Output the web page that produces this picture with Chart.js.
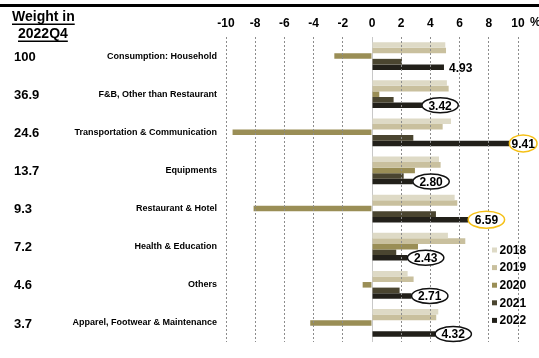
<!DOCTYPE html>
<html><head><meta charset="utf-8">
<script src="https://cdn.jsdelivr.net/npm/chart.js@4"></script>
<style>html,body{margin:0;padding:0;background:#fff}#wrap{width:539px;height:358px}</style>
</head><body><div id="wrap"><canvas id="c" width="539" height="358"></canvas></div>
<script>
// Household consumption growth by component, % y/y
const categories = ['Consumption: Household', 'F&B, Other than Restaurant', 'Transportation & Communication', 'Equipments', 'Restaurant & Hotel', 'Health & Education', 'Others', 'Apparel, Footwear & Maintenance'];
const weights = ['100', '36.9', '24.6', '13.7', '9.3', '7.2', '4.6', '3.7'];
const years = ['2018', '2019', '2020', '2021', '2022'];
const v2018 = [5.02, 5.13, 5.41, 4.59, 5.66, 5.20, 2.44, 4.54];
const v2019 = [5.07, 5.25, 4.84, 4.70, 5.84, 6.39, 2.85, 4.40];
const v2020 = [-2.58, 0.50, -9.55, 2.94, -8.11, 3.15, -0.64, -4.23];
const v2021 = [2.05, 1.48, 2.83, 2.17, 4.38, 1.66, 1.89, null];
const v2022 = [4.93, 3.42, 9.41, 2.80, 6.59, 2.43, 2.71, 4.32];
const xTicks = [-10, -8, -6, -4, -2, 0, 2, 4, 6, 8, 10];
// ring style around each 2022 value label
const ringStyle = ['none', 'black', 'yellow', 'black', 'yellow', 'black', 'black', 'black'];

const colors = ['#dedac6', '#c9c09e', '#9a8e56', '#4a4530', '#22201a'];
const series = [v2018, v2019, v2020, v2021, v2022];
const FONT = '"Liberation Sans", Arial, sans-serif';

const overlay = {
  id: 'overlay',
  beforeDraw(chart) {
    const ctx = chart.ctx;
    ctx.save();
    ctx.fillStyle = '#000';
    ctx.fillRect(0, 4, chart.width, 3);
    ctx.restore();
  },
  beforeDatasetsDraw(chart) {
    const ctx = chart.ctx, x = chart.scales.x, a = chart.chartArea;
    const x0 = Math.round(x.getPixelForValue(0)) + 0.5;
    ctx.save();
    ctx.strokeStyle = '#c8c8c8';
    ctx.lineWidth = 1;
    ctx.beginPath(); ctx.moveTo(x0, a.top); ctx.lineTo(x0, a.bottom); ctx.stroke();
    ctx.restore();
  },
  afterDraw(chart) {
    const ctx = chart.ctx, xs = chart.scales.x, ys = chart.scales.y;
    ctx.save();
    // header of the weight column
    ctx.fillStyle = '#000';
    ctx.font = 'bold 14px ' + FONT;
    ctx.textBaseline = 'alphabetic';
    ctx.textAlign = 'left';
    const h1 = 'Weight in', h2 = '2022Q4';
    ctx.fillText(h1, 12, 21);
    ctx.fillText(h2, 18, 38);
    ctx.fillRect(12, 23.5, ctx.measureText(h1).width, 1.5);
    ctx.fillRect(18, 40.5, ctx.measureText(h2).width, 1.5);
    // weights
    ctx.font = 'bold 13px ' + FONT;
    ctx.textBaseline = 'middle';
    weights.forEach((w, i) => ctx.fillText(w, 14, ys.getPixelForValue(i) + 1));
    // unit next to the last tick
    ctx.font = 'bold 12px ' + FONT;
    ctx.fillText('%', xs.getPixelForValue(10) + 12, 23);
    // 2022 value labels
    const meta = chart.getDatasetMeta(4);
    meta.data.forEach((bar, i) => {
      const val = v2022[i];
      const txt = val.toFixed(2);
      const xe = bar.x, yc = bar.y;
      ctx.font = 'bold 12px ' + FONT;
      const tw = ctx.measureText(txt).width;
      if (ringStyle[i] === 'none') {
        ctx.textAlign = 'left';
        ctx.fillStyle = '#000';
        ctx.fillText(txt, xe + 5, yc + 1);
        return;
      }
      const w = Math.min(tw + 13, chart.width - 2 - xe);
      const h = ringStyle[i] === 'yellow' ? 17 : 15;
      const cx = xe + w / 2;
      ctx.beginPath();
      ctx.ellipse(cx, yc, w / 2, h / 2, 0, 0, Math.PI * 2);
      ctx.fillStyle = '#fff';
      ctx.fill();
      ctx.lineWidth = 1.5;
      ctx.strokeStyle = ringStyle[i] === 'yellow' ? '#f5c017' : '#111';
      ctx.stroke();
      ctx.fillStyle = '#000';
      ctx.textAlign = 'center';
      ctx.fillText(txt, cx, yc + 1);
    });
    // legend
    ctx.textAlign = 'left';
    ctx.font = 'bold 12px ' + FONT;
    years.forEach((yr, i) => {
      const yy = 250 + i * 17.6;
      ctx.fillStyle = colors[i];
      ctx.fillRect(492, yy - 2.5, 5, 5);
      ctx.fillStyle = '#000';
      ctx.fillText(yr, 499.5, yy + 0.5);
    });
    ctx.restore();
  }
};

new Chart(document.getElementById('c'), {
  type: 'bar',
  data: {
    labels: categories,
    datasets: years.map((yr, i) => ({
      label: yr,
      data: series[i],
      backgroundColor: colors[i],
      borderWidth: 0,
      categoryPercentage: 0.73,
      barPercentage: 1
    }))
  },
  options: {
    indexAxis: 'y',
    responsive: false,
    animation: false,
    devicePixelRatio: 1,
    layout: { padding: { top: 0, right: 21, bottom: 16, left: 0 } },
    plugins: { legend: { display: false }, tooltip: { enabled: false } },
    scales: {
      x: {
        position: 'top',
        min: -10, max: 10,
        afterFit(s) { s.height = 37; },
        afterBuildTicks(s) { s.ticks = xTicks.map(v => ({ value: v })); },
        ticks: { color: '#000', padding: 6, font: { family: FONT, size: 12, weight: 'bold' } },
        grid: {
          z: 1,
          drawTicks: false,
          lineWidth: 1,
          color: c => (c.tick && c.tick.value === 0) ? 'rgba(0,0,0,0)' : '#8c8c8c'
        },
        border: { display: false, dash: [2, 2] }
      },
      y: {
        afterFit(s) { s.width = 226; },
        ticks: { color: '#000', padding: 9, font: { family: FONT, size: 9, weight: 'bold' } },
        grid: { display: false, drawTicks: false },
        border: { display: false }
      }
    }
  },
  plugins: [overlay]
});
</script>
</body></html>
